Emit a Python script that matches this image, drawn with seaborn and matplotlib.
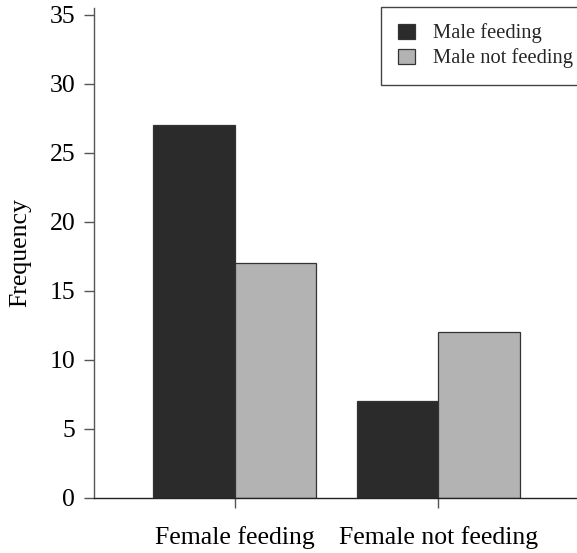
import matplotlib
matplotlib.use("Agg")
import matplotlib.pyplot as plt
import seaborn as sns
import pandas as pd

female_groups = ["Female feeding", "Female not feeding"]
male_groups = ["Male feeding", "Male not feeding"]
male_feeding_counts = [27, 7]
male_not_feeding_counts = [17, 12]
y_ticks = [0, 5, 10, 15, 20, 25, 30, 35]

df = pd.DataFrame({
    "female": female_groups * 2,
    "male": [male_groups[0]] * 2 + [male_groups[1]] * 2,
    "freq": male_feeding_counts + male_not_feeding_counts,
})

sns.set_theme(style="white")
plt.rcParams["font.family"] = ["Liberation Serif", "DejaVu Serif"]

fig = plt.figure(figsize=(5.77, 5.53), dpi=100)
ax = fig.add_axes([94 / 577, 55 / 553, 1 - 94 / 577 + 0.01, 490 / 553])

sns.barplot(data=df, x="female", y="freq", hue="male", order=female_groups,
            hue_order=male_groups, palette=["#2b2b2b", "#b3b3b3"],
            saturation=1, width=0.8, edgecolor="#333333", linewidth=0.9, ax=ax)

ax.set_ylim(0, 35.5)
ax.set_xlim(-0.69, 1.71)
ax.set_yticks(y_ticks)
ax.set_yticklabels([str(v) for v in y_ticks])
ax.set_xlabel("")
ax.set_ylabel("Frequency", fontsize=18.5, labelpad=13, color="black")

for s in ["top", "right"]:
    ax.spines[s].set_visible(False)
ax.spines["left"].set_color("#555555")
ax.spines["left"].set_linewidth(1.0)
ax.spines["bottom"].set_color("#222222")
ax.spines["bottom"].set_linewidth(1.0)

ax.tick_params(axis="both", which="major", direction="out", length=7.5,
               width=1.0, color="#555555", labelsize=18.5, labelcolor="black",
               left=True, bottom=True)
ax.tick_params(axis="y", pad=6)
ax.tick_params(axis="x", pad=13, labelsize=18.5)

leg = ax.legend(loc="upper right", bbox_to_anchor=(1.013, 1.002), fontsize=14.8,
                frameon=True, fancybox=False, borderpad=0.8, labelspacing=0.25,
                handlelength=0.85, handleheight=0.75, handletextpad=0.85,
                borderaxespad=0.0)
leg.get_frame().set_edgecolor("#444444")
leg.get_frame().set_linewidth(1.0)
leg.get_frame().set_facecolor("white")
leg.get_frame().set_alpha(1)

fig.savefig("out.png", dpi=100)
